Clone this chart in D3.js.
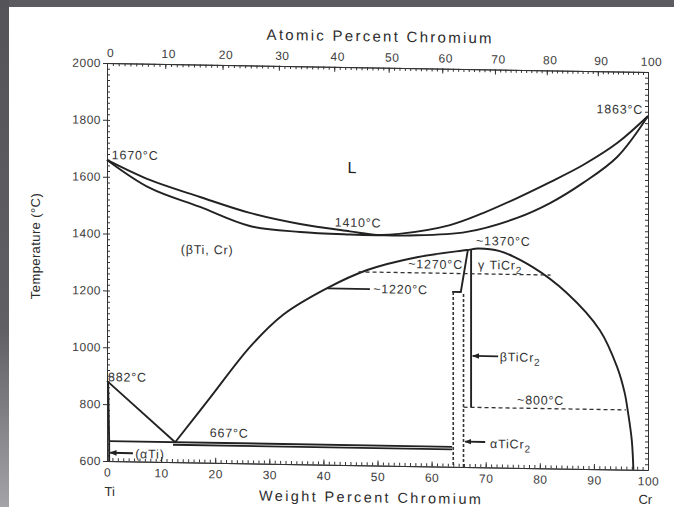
<!DOCTYPE html>
<html>
<head>
<meta charset="utf-8">
<script src="https://cdnjs.cloudflare.com/ajax/libs/d3/7.8.5/d3.min.js"></script>
<style>
  body { margin: 0; background: #fff; }
  svg { display: block; font-family: "Liberation Sans", Arial, Helvetica, sans-serif; }
  .axis path, .axis line { stroke: #333; stroke-width: 1; }
  .axis text { fill: #3c3c3c; font-size: 12px; letter-spacing: 0.5px; }
  .phase { fill: none; stroke: #222; stroke-width: 1.9; }
  .dash { fill: none; stroke: #333; stroke-width: 1.3; stroke-dasharray: 4,3; }
  .dots { fill: none; stroke: #333; stroke-width: 1.6; stroke-dasharray: 3,2; }
  .note { fill: #333; font-size: 12.5px; letter-spacing: 0.8px; }
</style>
</head>
<body>
<div id="chart"></div>
<script>
// ---- data (weight % Cr, temperature in °C) ----
var liquidus = [[0,1659],[7.9,1591],[17.2,1534],[26.4,1481],[35.7,1445],[44.9,1422],
  [50,1411],[54,1416],[63.4,1450],[69.5,1494],[75.8,1549],[81.9,1607],[88,1669],[94.3,1748],[100,1845]];
var solidus = [[0,1659],[7.9,1563],[17.2,1499],[26.4,1435],[35.7,1417],[44.9,1411],
  [50,1410],[56,1411],[66.5,1427],[75.8,1479],[81.9,1533],[88,1606],[94.3,1699],[100,1845]];
var dome = [[12.6,670],[19,827],[26.4,1009],[32.5,1124],[40.7,1221],[48.1,1287],[57.3,1335],
  [66.5,1363],[68.6,1369],[72.6,1361],[78.7,1307],[85,1218],[91.1,1089],[94.3,960],
  [95.7,869],[96.3,802],[97,704],[97.3,600]];
var betaTransus = [[0,882],[12.6,670]];
var alphaSolvus = [[0.2,880],[0.4,670],[0.4,600]];
var eutectoid = [[0.4,670],[63.8,670]];
var eutectoid2 = [[12.2,661],[63.8,661]];
var tie1220 = [[40.7,1220],[48.6,1220]];
var tiCr2Left = [[63.8,1215],[65.4,1215],[66.7,1363]];
var tiCr2Right = [[67.3,1367],[67.3,810]];
var dash1270 = [[46.5,1280],[82,1280]];
var dash800 = [[65.9,810],[95.9,810]];
var dotsLeft = [[64.0,1215],[64.0,600]];
var dotsRight = [[65.9,1208],[65.9,600]];

// axis ticks
var tempTicks = [600, 800, 1000, 1200, 1400, 1600, 1800, 2000];
var wtTicks = [0, 10, 20, 30, 40, 50, 60, 70, 80, 90, 100];
var atTicks = [0, 10, 20, 30, 40, 50, 60, 70, 80, 90, 100];

// labels: [text, wt%, T, anchor]
var notes = [
  ["1670°C", 0.9, 1662, "start"],
  ["1863°C", 99.1, 1852, "end"],
  ["1410°C", 46.4, 1438, "middle"],
  ["(βTi, Cr)", 18.5, 1334, "middle"],
  ["~1370°C", 68.2, 1381, "start"],
  ["~1270°C", 65.8, 1296, "end"],
  ["~1220°C", 49.2, 1206, "start"],
  ["~800°C", 75.8, 824, "start"],
  ["882°C", 0.2, 881, "start"],
  ["667°C", 19, 690, "start"]
];
// phase names with subscript 2: [prefix, wt%, T]
var phaseNotes = [
  ["γ TiCr", 68.6, 1297],
  ["βTiCr", 72.6, 974],
  ["αTiCr", 70.8, 668]
];
// arrows: [from, to]
var arrows = [
  [[72.3,991],[67.6,991]],
  [[69.9,689],[66.2,689]],
  [[4.8,629],[0.6,629]]
];

var svgWidth = 674;
var svgHeight = 507;
var margin = { top: 63, right: 26, bottom: 46, left: 107 };
var width = svgWidth - margin.left - margin.right;
var height = svgHeight - margin.top - margin.bottom;

var svg = d3.select("#chart")
  .append("svg")
  .attr("width", svgWidth)
  .attr("height", svgHeight);

// gray frame of the scanned page
var defs = svg.append("defs");
var grad = defs.append("linearGradient")
  .attr("id", "edge")
  .attr("x1", 0).attr("y1", 0).attr("x2", 0).attr("y2", 1);
grad.append("stop").attr("offset", "0%").attr("stop-color", "#545458");
grad.append("stop").attr("offset", "65%").attr("stop-color", "#606064");
grad.append("stop").attr("offset", "100%").attr("stop-color", "#a4a4a8");

defs.append("marker")
  .attr("id", "head")
  .attr("viewBox", "0 0 10 10")
  .attr("refX", 9).attr("refY", 5)
  .attr("markerWidth", 7).attr("markerHeight", 7)
  .attr("markerUnits", "userSpaceOnUse")
  .attr("orient", "auto")
  .append("path")
  .attr("d", "M0,1 L10,5 L0,9 z")
  .attr("fill", "#222");

svg.append("rect").attr("x", 0).attr("y", 0).attr("width", svgWidth).attr("height", 7).attr("fill", "#5c5c60");
svg.append("rect").attr("x", 0).attr("y", 0).attr("width", 9).attr("height", svgHeight).attr("fill", "url(#edge)");

// the scan is sheared: the right side sits about 9px lower than the left
var k = 0.0166;
var chartGroup = svg.append("g")
  .attr("transform", `matrix(1, ${k}, 0, 1, 0, ${-k * margin.left})`);

var x = d3.scaleLinear().domain([0, 100]).range([margin.left, margin.left + width]);
var y = d3.scaleLinear().domain([600, 2000]).range([margin.top + height, margin.top]);

// atomic % -> weight % for the top axis
function toWt(a) {
  var cr = a * 51.996, ti = (100 - a) * 47.867;
  return 100 * cr / (cr + ti);
}

// minor ticks
var tempMinor = d3.range(600, 2001, 20);
var wtMinor = d3.range(0, 101, 1);
var atMinor = d3.range(0, 101, 1).map(toWt);

// left axis
chartGroup.append("g")
  .attr("class", "axis")
  .attr("transform", `translate(${margin.left},0)`)
  .call(d3.axisLeft(y).tickValues(tempMinor).tickSizeInner(-3).tickSizeOuter(0).tickFormat(""));
chartGroup.append("g")
  .attr("class", "axis")
  .attr("transform", `translate(${margin.left},0)`)
  .call(d3.axisLeft(y).tickValues(tempTicks).tickSizeInner(4).tickSizeOuter(0).tickPadding(2).tickFormat(d3.format("d")));

// right axis, ticks only
chartGroup.append("g")
  .attr("class", "axis")
  .attr("transform", `translate(${margin.left + width},0)`)
  .call(d3.axisLeft(y).tickValues(tempMinor).tickSizeInner(3).tickSizeOuter(0).tickFormat(""));

// bottom axis, weight percent
chartGroup.append("g")
  .attr("class", "axis")
  .attr("transform", `translate(0,${margin.top + height})`)
  .call(d3.axisBottom(x).tickValues(wtMinor).tickSizeInner(-3).tickSizeOuter(0).tickFormat(""));
chartGroup.append("g")
  .attr("class", "axis")
  .attr("transform", `translate(0,${margin.top + height})`)
  .call(d3.axisBottom(x).tickValues(wtTicks).tickSizeInner(-5).tickSizeOuter(0).tickPadding(7));

// top axis, atomic percent
chartGroup.append("g")
  .attr("class", "axis")
  .attr("transform", `translate(0,${margin.top})`)
  .call(d3.axisTop(x).tickValues(atMinor).tickSizeInner(-3).tickSizeOuter(0).tickFormat(""));
chartGroup.append("g")
  .attr("class", "axis")
  .attr("transform", `translate(0,${margin.top})`)
  .call(d3.axisTop(x).tickValues(atTicks.map(toWt)).tickSizeInner(-5).tickSizeOuter(0).tickPadding(6)
    .tickFormat((d, i) => atTicks[i]))
  .selectAll("text").attr("dx", 3);

// phase boundaries
var line = d3.line().x(d => x(d[0])).y(d => y(d[1]));
var smooth = d3.line().x(d => x(d[0])).y(d => y(d[1])).curve(d3.curveCatmullRom.alpha(0.5));

[liquidus, solidus, dome].forEach(function(c) {
  chartGroup.append("path").attr("class", "phase").attr("d", smooth(c));
});
[betaTransus, alphaSolvus, eutectoid, tie1220, tiCr2Left, tiCr2Right].forEach(function(c) {
  chartGroup.append("path").attr("class", "phase").attr("d", line(c));
});
chartGroup.append("path").attr("class", "phase").attr("stroke-width", 1.4).attr("d", line(eutectoid2));
[dash1270, dash800].forEach(function(c) {
  chartGroup.append("path").attr("class", "dash").attr("d", line(c));
});
[dotsLeft, dotsRight].forEach(function(c) {
  chartGroup.append("path").attr("class", "dots").attr("d", line(c));
});

// arrows pointing at the phases
arrows.forEach(function(a) {
  chartGroup.append("path")
    .attr("class", "phase")
    .attr("stroke-width", 1.6)
    .attr("marker-end", "url(#head)")
    .attr("d", line(a));
});

// temperature notes
chartGroup.selectAll(".note")
  .data(notes)
  .enter()
  .append("text")
  .attr("class", "note")
  .attr("x", d => x(d[1]))
  .attr("y", d => y(d[2]))
  .attr("text-anchor", d => d[3])
  .text(d => d[0]);

// phase names with subscript
phaseNotes.forEach(function(p) {
  var t = chartGroup.append("text")
    .attr("class", "note")
    .attr("x", x(p[1]))
    .attr("y", y(p[2]));
  t.append("tspan").text(p[0]);
  t.append("tspan").attr("dy", 4).attr("font-size", 10).text("2");
});

chartGroup.append("text")
  .attr("class", "note")
  .attr("x", x(5.2)).attr("y", y(612))
  .text("(αTi)");

chartGroup.append("text")
  .attr("x", x(45.3)).attr("y", y(1627))
  .attr("text-anchor", "middle")
  .attr("font-size", 16).attr("fill", "#222")
  .text("L");

// axis titles
chartGroup.append("text")
  .attr("x", x(50.3)).attr("y", 37)
  .attr("text-anchor", "middle")
  .attr("font-size", 15).attr("fill", "#2c2c2c")
  .attr("textLength", 225).attr("lengthAdjust", "spacing")
  .text("Atomic Percent Chromium");

chartGroup.append("text")
  .attr("x", x(48.6)).attr("y", 498)
  .attr("text-anchor", "middle")
  .attr("font-size", 14.5).attr("fill", "#2c2c2c")
  .attr("textLength", 222).attr("lengthAdjust", "spacing")
  .text("Weight Percent Chromium");

chartGroup.append("text")
  .attr("x", x(0.5)).attr("y", 496)
  .attr("text-anchor", "middle")
  .attr("font-size", 13).attr("fill", "#2c2c2c")
  .text("Ti");

chartGroup.append("text")
  .attr("x", x(99.5)).attr("y", 495)
  .attr("text-anchor", "middle")
  .attr("font-size", 13).attr("fill", "#2c2c2c")
  .text("Cr");

svg.append("text")
  .attr("transform", "translate(40,246) rotate(-90)")
  .attr("text-anchor", "middle")
  .attr("font-size", 13).attr("fill", "#2c2c2c")
  .attr("letter-spacing", 0.4)
  .text("Temperature (°C)");
</script>
</body>
</html>
